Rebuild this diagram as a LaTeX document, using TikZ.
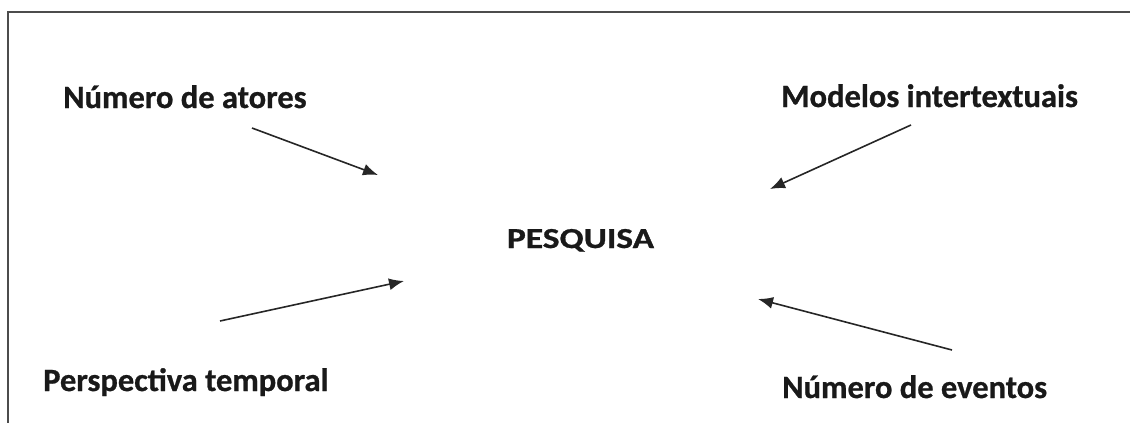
\documentclass[tikz,border=0pt]{standalone}
\usepackage{fontspec}
\setmainfont{Carlito}[BoldFeatures={FakeBold=0.8}]
\usetikzlibrary{arrows.meta}
\begin{document}
\begin{tikzpicture}[x=1pt,y=-1pt,
  lbl/.style={font=\fontsize{32.5}{38}\selectfont\bfseries, inner sep=0pt, text=black!90, anchor=base west},
  conn/.style={line width=1.6pt, draw=black!85, -{Latex[length=15pt,width=12pt]}},
  frame/.style={line width=2pt, draw=black!70}]
\useasboundingbox (0,0) rectangle (1130,423);
\draw[frame] (8,440) -- (8,12) -- (1140,12);
\node[lbl] (atores) at (63,108) {Número de atores};
\node[lbl] (modelos) at (781,107) {Modelos intertextuais};
\node[lbl, anchor=base, font=\fontsize{29}{34}\selectfont\bfseries] (pesquisa) at (580.5,248) {\scalebox{1.22}[1]{PESQUISA}};
\node[lbl] (perspectiva) at (43,391) {Perspectiva temporal};
\node[lbl] (eventos) at (782,398) {Número de eventos};
\coordinate (a1s) at (252,128); \coordinate (a1e) at (378,175);
\coordinate (a2s) at (911,125); \coordinate (a2e) at (770,189);
\coordinate (a3s) at (220,321); \coordinate (a3e) at (404,281);
\coordinate (a4s) at (952,350); \coordinate (a4e) at (758,299);
\draw[conn] (a1s) -- (a1e);
\draw[conn] (a2s) -- (a2e);
\draw[conn] (a3s) -- (a3e);
\draw[conn] (a4s) -- (a4e);
\end{tikzpicture}
\end{document}
